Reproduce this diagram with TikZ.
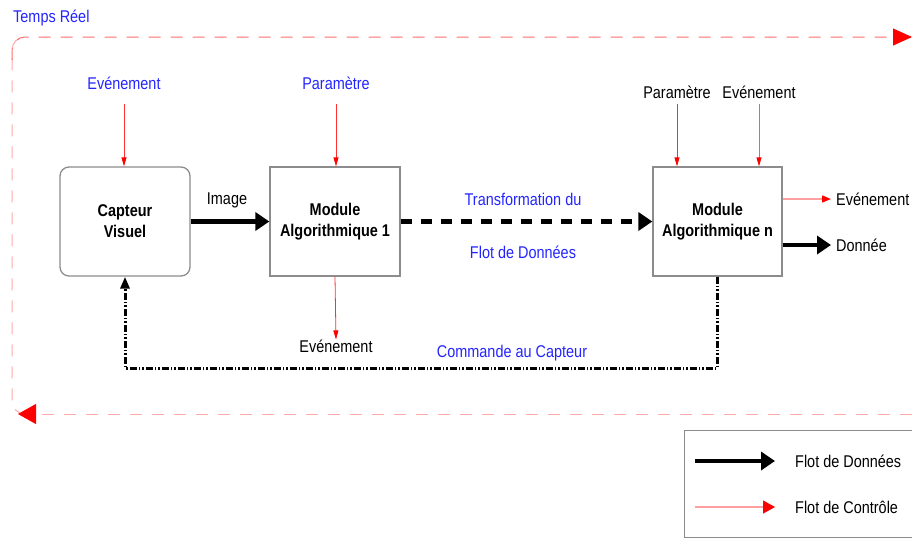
\documentclass[tikz,border=0pt]{standalone}
\usepackage{fontspec}
\setmainfont{Liberation Sans}[FakeStretch=0.85]
\usetikzlibrary{arrows.meta,calc}
\definecolor{lblue}{HTML}{2424FF}
\definecolor{ctrlred}{HTML}{FF3030}
\definecolor{ctrlpink}{HTML}{FFA0A0}
\definecolor{loopred}{HTML}{FF6E6E}
\definecolor{looppink}{HTML}{FFAAAA}
\definecolor{boxgray}{HTML}{8C8C8C}
\begin{document}
\begin{tikzpicture}[x=1pt,y=-1pt,
  every node/.style={font=\fontsize{17}{20}\selectfont},
  blk/.style={draw=boxgray,line width=1.3pt,minimum width=130pt,minimum height=109pt,
    align=center,font=\fontsize{17}{21}\selectfont\bfseries,inner sep=0pt},
  lbl/.style={inner sep=0pt},
  blbl/.style={inner sep=0pt,text=lblue},
  ctrl/.style={draw=ctrlred,line width=0.8pt,-{Triangle[length=9pt,width=5pt,fill=red,color=red]}},
  ctrlp/.style={draw=ctrlpink,line width=1.3pt,-{Triangle[length=9pt,width=7pt,fill=red,color=red]}},
  data/.style={draw=black,line width=4.2pt,-{Triangle[length=14pt,width=18pt]}},
  tloop/.style={line width=1pt,dash pattern=on 12pt off 10pt},
  cmd/.style={draw=black,line width=3pt,dash pattern=on 7pt off 2pt on 1.5pt off 2pt on 1.5pt off 2pt,
    -{Triangle[length=12pt,width=9pt]}}]
\useasboundingbox (0,0) rectangle (912,539);

% real-time loop
\node[blbl,anchor=west] (tr) at (13,18) {Temps Réel};
\coordinate (tl1) at (24,414);
\coordinate (tl2) at (912,37);
\coordinate (tl3) at (912,414);
\coordinate (tl4) at (18,414);
\draw[tloop,draw=looppink,rounded corners=13pt] (tl1) -- (12,414) -- (12,37) -- (24,37);
\draw[tloop,draw=loopred,rounded corners=13pt,-{Triangle[length=19pt,width=17pt,fill=red,color=red]}] (12,60) -- (12,37) -- (tl2);
\draw[tloop,draw=looppink,-{Triangle[length=18pt,width=20pt,fill=red,color=red]}] (tl3) -- (tl4);

% blocks
\node[blk,rounded corners=9pt] (cap) at (125,221.5) {Capteur\\Visuel};
\node[blk] (m1) at (335,221.5) {Module\\Algorithmique 1};
\node[blk,minimum width=129pt] (mn) at (717.5,221.5) {Module\\Algorithmique n};

% top labels and control arrows
\node[blbl] (ev1) at (124,83) {Evénement};
\node[blbl] (par1) at (336,83) {Paramètre};
\node[lbl] (parn) at (677,92) {Paramètre};
\node[lbl] (evn) at (759,92) {Evénement};
\draw[ctrl,shorten <=14pt] (ev1.south) -- (ev1.south |- cap.north);
\draw[ctrl,shorten <=14pt] (par1.south) -- (par1.south |- m1.north);
\draw[ctrl,shorten <=5pt] (parn.south) -- (parn.south |- mn.north);
\draw[ctrl,draw=ctrlred!80,shorten <=5pt] (evn.south) -- (evn.south |- mn.north);

% data flow
\node[lbl] (img) at (227,200) {Image};
\draw[data] (cap.east) -- (m1.east -| m1.west);
\node[blbl] (tf1) at (523,199) {Transformation du};
\node[blbl] (tf2) at (523,252) {Flot de Données};
\draw[data,dash pattern=on 11pt off 9pt] (m1.east) -- (mn.west);

% outputs of module n
\node[lbl,anchor=west] (evo) at (836,199) {Evénement};
\node[lbl,anchor=west] (don) at (836,245) {Donnée};
\draw[ctrlp,shorten >=5pt] (mn.east |- evo.west) -- (evo.west);
\draw[data,line width=3.5pt,shorten >=5pt] (mn.east |- don.west) -- (don.west);

% module 1 event
\node[lbl] (ev3) at (336,346) {Evénement};
\draw[ctrl] (m1.south) -- (ev3.north);

% command loop
\node[blbl] (cmdl) at (512,353) {Commande au Capteur};
\coordinate (cmdy) at (0,368);
\draw[cmd] (mn.south) -- (mn.south |- cmdy) -- (cap.south |- cmdy) -- (cap.south);

% legend
\node[draw=boxgray,line width=1.2pt,minimum width=228pt,minimum height=107pt,inner sep=0pt,anchor=north west] (leg) at (683.5,430) {};
\node[lbl,anchor=west] (lg1) at (795,461) {Flot de Données};
\node[lbl,anchor=west] (lg2) at (795,507) {Flot de Contrôle};
\coordinate (ls1) at (695,461);
\coordinate (ls2) at (695,507);
\draw[data,line width=3.5pt,shorten >=20pt] (ls1) -- (lg1.west);
\draw[ctrlp,-{Triangle[length=12pt,width=13pt,fill=red,color=red]},shorten >=20pt] (ls2) -- (lg2.west);
\end{tikzpicture}
\end{document}
